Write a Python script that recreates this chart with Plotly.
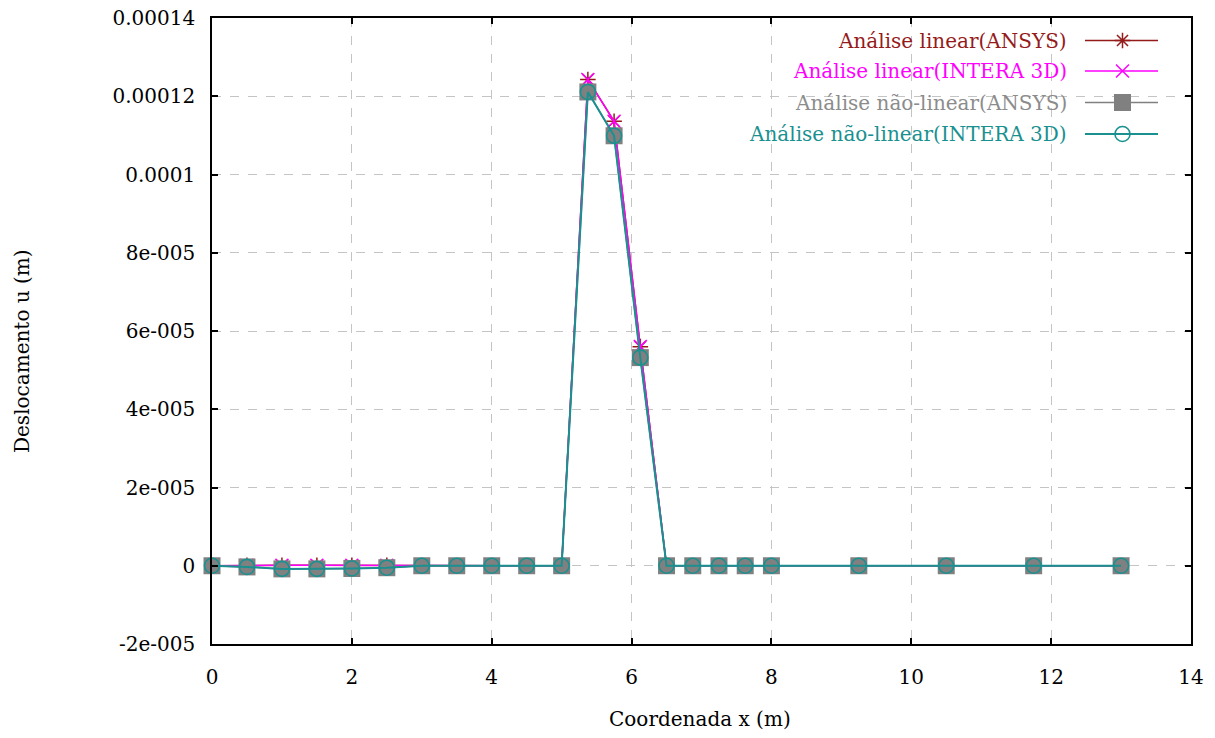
import plotly.graph_objects as go

# Node coordinates along the beam (m)
x_coord = [0, 0.5, 1, 1.5, 2, 2.5, 3, 3.5, 4, 4.5, 5, 5.375, 5.75, 6.125,
           6.5, 6.875, 7.25, 7.625, 8, 9.25, 10.5, 11.75, 13]

# Horizontal displacement u (m)
u_linear_ansys = [0, 1e-7, 1e-7, 1e-7, 1e-7, 1e-7, 0, 0, 0, 0, 0, 1.243e-4, 1.136e-4,
                  5.6e-5, 0, 0, 0, 0, 0, 0, 0, 0, 0]
u_linear_intera = [0, 1e-7, 1e-7, 1e-7, 1e-7, 1e-7, 0, 0, 0, 0, 0, 1.243e-4, 1.136e-4,
                   5.6e-5, 0, 0, 0, 0, 0, 0, 0, 0, 0]
u_nonlin_ansys = [0, -3e-7, -8e-7, -8e-7, -7e-7, -5e-7, 0, 0, 0, 0, 0, 1.211e-4, 1.099e-4,
                  5.32e-5, 0, 0, 0, 0, 0, 0, 0, 0, 0]
u_nonlin_intera = [0, -3e-7, -8e-7, -8e-7, -7e-7, -5e-7, 0, 0, 0, 0, 0, 1.211e-4, 1.099e-4,
                   5.32e-5, 0, 0, 0, 0, 0, 0, 0, 0, 0]

series_names = ["Análise linear(ANSYS)", "Análise linear(INTERA 3D)",
                "Análise não-linear(ANSYS)", "Análise não-linear(INTERA 3D)"]

y_tickvals = [-2e-5, 0, 2e-5, 4e-5, 6e-5, 8e-5, 1e-4, 1.2e-4, 1.4e-4]
y_ticktext = ["-2e-005", "0", "2e-005", "4e-005", "6e-005", "8e-005",
              "0.0001", "0.00012", "0.00014"]
x_tickvals = [0, 2, 4, 6, 8, 10, 12, 14]

FONT = "DejaVu Serif"
RED = "#951b1b"
MAGENTA = "#ff00ff"
GRAY = "#808080"
TEAL = "#1a9090"

styles = [
    dict(line=dict(color=RED, width=1.5),
         marker=dict(symbol="asterisk-open", size=13, color=RED, line=dict(color=RED, width=1.5))),
    dict(line=dict(color=MAGENTA, width=1.5),
         marker=dict(symbol="x-thin-open", size=13, color=MAGENTA, line=dict(color=MAGENTA, width=1.5))),
    dict(line=dict(color=GRAY, width=1.5),
         marker=dict(symbol="square", size=17, color=GRAY, line=dict(width=0))),
    dict(line=dict(color=TEAL, width=2),
         marker=dict(symbol="circle-open", size=15, color=TEAL, line=dict(color=TEAL, width=1.6))),
]
text_colors = [RED, MAGENTA, "#8c8c8c", TEAL]
series_vals = [u_linear_ansys, u_linear_intera, u_nonlin_ansys, u_nonlin_intera]

fig = go.Figure()
for name, vals, st in zip(series_names, series_vals, styles):
    fig.add_trace(go.Scatter(x=x_coord, y=vals, mode="lines+markers", name=name,
                             showlegend=False, cliponaxis=False, **st))

# Key: sample line with marker on the right of each right-aligned label
# (x2/y2 is a hidden overlay in pixel units of the plot frame)
key_rows = [40.5, 71, 102.5, 134]
for name, st, col, ry in zip(series_names, styles, text_colors, key_rows):
    fig.add_trace(go.Scatter(x=[1085, 1158], y=[ry, ry], mode="lines", line=st["line"],
                             xaxis="x2", yaxis="y2", showlegend=False, hoverinfo="skip"))
    fig.add_trace(go.Scatter(x=[1122.5], y=[ry], mode="markers", marker=st["marker"],
                             xaxis="x2", yaxis="y2", showlegend=False, hoverinfo="skip"))
    fig.add_annotation(x=1069, y=ry, xref="x2", yref="y2", text=name, showarrow=False,
                       xanchor="right", yanchor="middle",
                       font=dict(family=FONT, size=20, color=col))

# Axis titles (paper coordinates, outside the plot frame)
fig.add_annotation(x=0.4985, y=-0.1198, xref="paper", yref="paper", text="Coordenada x (m)",
                   showarrow=False, xanchor="center", yanchor="middle",
                   font=dict(family=FONT, size=20, color="black"))
fig.add_annotation(x=-0.1941, y=0.468, xref="paper", yref="paper", text="Deslocamento u (m)",
                   showarrow=False, xanchor="center", yanchor="middle", textangle=-90,
                   font=dict(family=FONT, size=20, color="black"))

axis_common = dict(
    showline=True, linecolor="black", linewidth=1.5, mirror="ticks",
    ticks="inside", ticklen=6, tickwidth=1.5, tickcolor="black",
    showgrid=True, gridcolor="#c4c4c4", griddash="dash", gridwidth=1.3,
    zeroline=False, automargin=False,
    tickfont=dict(family=FONT, size=20, color="black"),
)

fig.update_layout(
    width=1215, height=738,
    margin=dict(l=212, r=24, t=18, b=94, autoexpand=False),
    paper_bgcolor="white", plot_bgcolor="white",
    xaxis=dict(range=[0, 14], tickvals=x_tickvals, ticklabelstandoff=14, **axis_common),
    yaxis=dict(range=[-2e-5, 1.4e-4], tickvals=y_tickvals, ticktext=y_ticktext,
               ticklabelstandoff=11, **axis_common),
    xaxis2=dict(overlaying="x", anchor="y2", range=[212, 1191], visible=False, fixedrange=True),
    yaxis2=dict(overlaying="y", anchor="x2", range=[644, 18], visible=False, fixedrange=True),
)

fig.write_html("out.html")
